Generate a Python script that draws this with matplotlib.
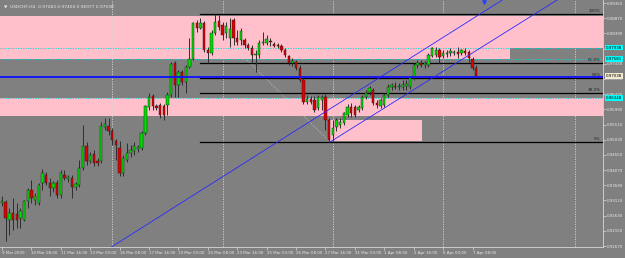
import matplotlib
matplotlib.use("Agg")
import matplotlib.pyplot as plt
from matplotlib.patches import Rectangle
import matplotlib.transforms as mtransforms

symbol = "USDCHF,H4"

opens = [
    0.9303, 0.9306, 0.9249, 0.9271, 0.9268, 0.9256, 0.9249, 0.9309, 0.9344, 0.9313,
    0.9303, 0.9366, 0.9392, 0.9366, 0.9350, 0.9366, 0.9328, 0.9392, 0.9379, 0.9382,
    0.9354, 0.9360, 0.9414, 0.9483, 0.9436, 0.9458, 0.9436, 0.9436, 0.9543, 0.9546,
    0.9530, 0.9499, 0.9477, 0.9398, 0.9439, 0.9461, 0.9467, 0.9474, 0.9477, 0.9524,
    0.9606, 0.9641, 0.9610, 0.9613, 0.9610, 0.9613, 0.9644, 0.9745, 0.9676, 0.9717,
    0.9685, 0.9733, 0.9758, 0.9872, 0.9856, 0.9872, 0.9787, 0.9777, 0.9840, 0.9878,
    0.9866, 0.9840, 0.9825, 0.9881, 0.9825, 0.9818, 0.9818, 0.9803, 0.9793, 0.9771,
    0.9771, 0.9809, 0.9809, 0.9815, 0.9806, 0.9803, 0.9799, 0.9787, 0.9768, 0.9745,
    0.9749, 0.9730, 0.9692, 0.9622, 0.9632, 0.9629, 0.9603, 0.9629, 0.9638, 0.9565,
    0.9518, 0.9543, 0.9550, 0.9556, 0.9581, 0.9606, 0.9606, 0.9597, 0.9603, 0.9638,
    0.9654, 0.9660, 0.9619, 0.9610, 0.9613, 0.9644, 0.9670, 0.9673, 0.9670, 0.9670,
    0.9673, 0.9670, 0.9698, 0.9739, 0.9745, 0.9739, 0.9739, 0.9768, 0.9771, 0.9787,
    0.9768, 0.9774, 0.9777, 0.9777, 0.9780, 0.9777, 0.9784, 0.9780, 0.9758, 0.97283]

highs = [
    0.9325, 0.9313, 0.9287, 0.9319, 0.9303, 0.9287, 0.9313, 0.9350, 0.9376, 0.9335,
    0.9366, 0.9410, 0.9401, 0.9382, 0.9373, 0.9376, 0.9407, 0.9407, 0.9392, 0.9392,
    0.9370, 0.9439, 0.9550, 0.9496, 0.9465, 0.9471, 0.9445, 0.9559, 0.9572, 0.9572,
    0.9540, 0.9505, 0.9499, 0.9455, 0.9493, 0.9486, 0.9496, 0.9486, 0.9530, 0.9613,
    0.9651, 0.9648, 0.9616, 0.9619, 0.9616, 0.9654, 0.9749, 0.9752, 0.9723, 0.9723,
    0.9739, 0.9825, 0.9875, 0.9881, 0.9888, 0.9878, 0.9796, 0.9850, 0.9900, 0.9897,
    0.9875, 0.9875, 0.9888, 0.9888, 0.9850, 0.9856, 0.9825, 0.9809, 0.9803, 0.9787,
    0.9818, 0.9843, 0.9834, 0.9825, 0.9812, 0.9809, 0.9806, 0.9793, 0.9771, 0.9762,
    0.9755, 0.9739, 0.9698, 0.9644, 0.9641, 0.9641, 0.9644, 0.9644, 0.9648, 0.9572,
    0.9565, 0.9572, 0.9572, 0.9591, 0.9616, 0.9619, 0.9613, 0.9613, 0.9644, 0.9660,
    0.9673, 0.9667, 0.9629, 0.9635, 0.9651, 0.9679, 0.9683, 0.9686, 0.9683, 0.9692,
    0.9692, 0.9705, 0.9745, 0.9755, 0.9755, 0.9752, 0.9777, 0.9796, 0.9796, 0.9793,
    0.9787, 0.9787, 0.9793, 0.9787, 0.9796, 0.9790, 0.9793, 0.9787, 0.9765, 0.97404]

lows = [
    0.9294, 0.9183, 0.9202, 0.9218, 0.9224, 0.9224, 0.9246, 0.9287, 0.9303, 0.9297,
    0.9297, 0.9344, 0.9360, 0.9325, 0.9338, 0.9319, 0.9319, 0.9376, 0.9370, 0.9319,
    0.9344, 0.9354, 0.9407, 0.9423, 0.9430, 0.9420, 0.9420, 0.9430, 0.9534, 0.9518,
    0.9486, 0.9439, 0.9388, 0.9388, 0.9433, 0.9449, 0.9455, 0.9464, 0.9471, 0.9518,
    0.9597, 0.9597, 0.9597, 0.9572, 0.9565, 0.9581, 0.9638, 0.9638, 0.9638, 0.9676,
    0.9651, 0.9730, 0.9755, 0.9843, 0.9853, 0.9780, 0.9745, 0.9771, 0.9834, 0.9850,
    0.9818, 0.9825, 0.9796, 0.9803, 0.9803, 0.9803, 0.9793, 0.9787, 0.9749, 0.9717,
    0.9762, 0.9803, 0.9803, 0.9799, 0.9796, 0.9793, 0.9780, 0.9765, 0.9739, 0.9736,
    0.9723, 0.9685, 0.9616, 0.9616, 0.9616, 0.9591, 0.9597, 0.9597, 0.9534, 0.9496,
    0.9499, 0.9530, 0.9540, 0.9550, 0.9575, 0.9575, 0.9575, 0.9591, 0.9597, 0.9632,
    0.9644, 0.9613, 0.9603, 0.9603, 0.9606, 0.9638, 0.9660, 0.9663, 0.9660, 0.9660,
    0.9660, 0.9663, 0.9692, 0.9730, 0.9733, 0.9730, 0.9733, 0.9765, 0.9765, 0.9745,
    0.9762, 0.9765, 0.9768, 0.9771, 0.9762, 0.9771, 0.9771, 0.9749, 0.9723, 0.96977]

closes = [
    0.9309, 0.9256, 0.9271, 0.9249, 0.9249, 0.9278, 0.9309, 0.9344, 0.9319, 0.9325,
    0.9360, 0.9398, 0.9366, 0.9350, 0.9366, 0.9328, 0.9398, 0.9382, 0.9385, 0.9354,
    0.9363, 0.9414, 0.9483, 0.9436, 0.9455, 0.9430, 0.9430, 0.9546, 0.9553, 0.9530,
    0.9502, 0.9486, 0.9398, 0.9445, 0.9461, 0.9471, 0.9483, 0.9480, 0.9524, 0.9610,
    0.9638, 0.9610, 0.9603, 0.9581, 0.9581, 0.9644, 0.9743, 0.9676, 0.9717, 0.9685,
    0.9733, 0.9758, 0.9872, 0.9856, 0.9872, 0.9787, 0.9777, 0.9840, 0.9875, 0.9859,
    0.9834, 0.9862, 0.9853, 0.9825, 0.9812, 0.9847, 0.9803, 0.9793, 0.9771, 0.9774,
    0.9809, 0.9812, 0.9821, 0.9812, 0.9799, 0.9799, 0.9787, 0.9771, 0.9745, 0.9752,
    0.9730, 0.9692, 0.9622, 0.9632, 0.9622, 0.9597, 0.9638, 0.9638, 0.9565, 0.9502,
    0.9540, 0.9565, 0.9559, 0.9588, 0.9606, 0.9588, 0.9581, 0.9606, 0.9638, 0.9651,
    0.9667, 0.9619, 0.9613, 0.9629, 0.9644, 0.9670, 0.9676, 0.9670, 0.9673, 0.9676,
    0.9679, 0.9698, 0.9739, 0.9745, 0.9739, 0.9745, 0.9771, 0.9793, 0.9787, 0.9765,
    0.9777, 0.9777, 0.9784, 0.9780, 0.9774, 0.9787, 0.9777, 0.9762, 0.9730, 0.97038]

time_labels = ["9 Mar 2020", "10 Mar 08:00", "11 Mar 16:00", "13 Mar 00:00",
               "16 Mar 08:00", "17 Mar 16:00", "19 Mar 00:00", "20 Mar 08:00",
               "23 Mar 16:00", "25 Mar 00:00", "26 Mar 08:00", "27 Mar 16:00",
               "31 Mar 00:00", "1 Apr 08:00", "2 Apr 16:00", "6 Apr 00:00",
               "7 Apr 08:00"]
time_label_bars = [0, 8, 16, 24, 32, 40, 48, 56, 64, 72, 80, 88, 96, 104, 112, 120, 128]
separator_bars = [30, 60, 90, 120, 156]

price_ticks = [0.91670, 0.92150, 0.92630, 0.93110, 0.93590, 0.94070, 0.94550,
               0.95030, 0.95510, 0.95990, 0.96470, 0.96950, 0.97430, 0.97910,
               0.98390, 0.98870, 0.99350]

# rectangles (supply / demand zones)
zone_bottoms = [0.97938, 0.97596, 0.95764, 0.94974]
zone_tops = [0.98939, 0.97938, 0.96348, 0.95653]
zone_start_bars = [-5, -5, -5, 89.3]
zone_end_bars = [200, 138.2, 200, 114.3]

# horizontal lines with price labels
cyan_levels = [0.97938, 0.97581, 0.96348]
blue_level = 0.97012
bid_price = closes[-1]

# fibonacci retracement
fib_bar = 54
fib_high = 0.99003
fib_low = 0.94958
fib_ratios = [1.0, 0.618, 0.5, 0.382, 0.0]
fib_names = ["100%", "61.8%", "50%", "38.2%", "0%"]

# channel trend lines (two anchor points each)
trend_a = [(30.2, 0.91672), (136.1, 0.99445)]
trend_b = [(89.25, 0.94958), (149.7, 0.99350)]

BG = "#808080"
PINK = "#FFC0CB"
TXT = "#e8e8e8"
UP = "#00E000"
DN = "#E00000"

W, H = 625, 258
fig = plt.figure(figsize=(W / 100, H / 100), dpi=100, facecolor=BG)
ax = fig.add_axes([0, 11 / H, 603 / W, 247 / H], facecolor=BG)
ax.set_xlim(-0.54, 163.5)
ax.set_ylim(0.91640, 0.99445)

# zones
for x0, x1, b, t in zip(zone_start_bars, zone_end_bars, zone_bottoms, zone_tops):
    ax.add_patch(Rectangle((x0, b), x1 - x0, t - b, facecolor=PINK,
                           edgecolor="none", zorder=0.5))

# period separators
for s in separator_bars:
    ax.axvline(s, color="#d8d8d8", lw=0.6, ls=(0, (1.5, 1.5)), zorder=1)

# cyan dotted lines
for lv in cyan_levels:
    ax.axhline(lv, color="#00d8d8", lw=0.6, ls=(0, (1.5, 1.5)), zorder=1.2)

# fibonacci lines
fib_rng = fib_high - fib_low
for r, name in zip(fib_ratios, fib_names):
    lv = fib_low + r * fib_rng
    ax.plot([fib_bar, 200], [lv, lv], color="black", lw=0.9, zorder=1.5)
    ax.text(162.8, lv + 0.0004, name, fontsize=3, color="#202020",
            ha="right", va="bottom", zorder=6)
ax.plot([fib_bar, trend_b[0][0]], [fib_high, fib_low], color="#d0d0d0",
        lw=0.5, ls=(0, (1.5, 2)), zorder=1.4)

# blue horizontal line
ax.axhline(blue_level, color="#1010ff", lw=1.3, zorder=4)

# trend lines
ax.axline(trend_a[0], trend_a[1], color="#2a2aff", lw=0.6, zorder=4)
(bx0, by0), (bx1, by1) = trend_b
slope_b = (by1 - by0) / (bx1 - bx0)
ax.plot([bx0, bx0 + 100], [by0, by0 + slope_b * 100], color="#2a2aff", lw=0.6, zorder=4)

# candles
idx = list(range(len(opens)))
ax.vlines(idx, lows, highs, color="#2e2e2e", lw=0.7, zorder=3)
for i, o, c in zip(idx, opens, closes):
    up = c >= o
    bottom = min(o, c)
    hgt = max(abs(c - o), 0.00015)
    ax.add_patch(Rectangle((i - 0.32, bottom), 0.64, hgt,
                           facecolor=UP if up else DN, edgecolor="#1a1a1a",
                           lw=0.3, zorder=3.5))

# shift marker
ax.plot([131], [0.9938], marker="v", color="#3040ff", markersize=2.5,
        zorder=6, clip_on=False)

# axes styling
for sp in ["top", "left"]:
    ax.spines[sp].set_visible(False)
for sp in ["right", "bottom"]:
    ax.spines[sp].set_color("#d8d8d8")
    ax.spines[sp].set_linewidth(0.6)
ax.yaxis.tick_right()
ax.set_yticks(price_ticks)
ax.set_yticklabels([f"{p:.5f}" for p in price_ticks])
ax.set_xticks(time_label_bars)
ax.set_xticklabels(time_labels, ha="left")
ax.tick_params(axis="both", labelsize=2.9, colors="#d8d8d8", labelcolor=TXT,
               length=2, width=0.5, pad=1)

# price label boxes
trans = mtransforms.blended_transform_factory(ax.transAxes, ax.transData)
for lv in cyan_levels:
    ax.text(1.005, lv, f"{lv:.5f}", transform=trans, fontsize=2.9, color="black",
            va="center", ha="left", zorder=7, clip_on=False,
            bbox=dict(boxstyle="square,pad=0.2", fc="#00ffff", ec="none"))
ax.text(1.005, bid_price, f"{bid_price:.5f}", transform=trans, fontsize=2.9,
        color="black", va="center", ha="left", zorder=7, clip_on=False,
        bbox=dict(boxstyle="square,pad=0.2", fc="#f0ead0", ec="none"))

# header
fig.text(4 / W, 1 - 6 / H,
         f"\u25BC  {symbol}  {opens[-1]:.5f} {highs[-1]:.5f} {lows[-1]:.5f} {closes[-1]:.5f}",
         fontsize=3.2, color=TXT, ha="left", va="center")

fig.savefig("out.png", dpi=100, facecolor=BG)
